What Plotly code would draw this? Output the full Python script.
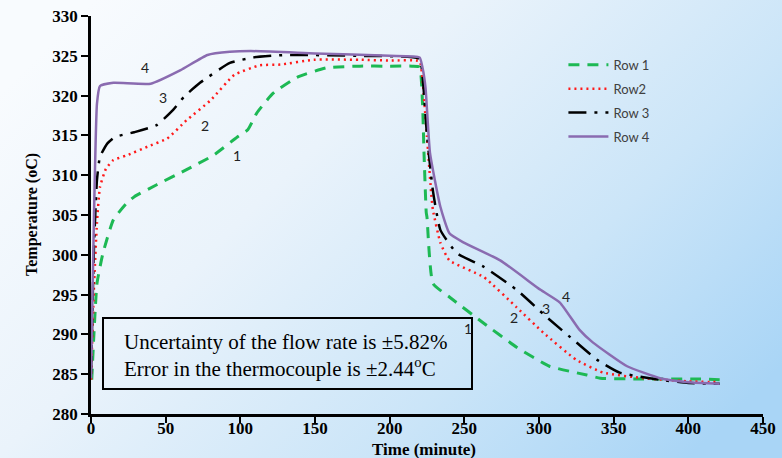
import plotly.graph_objects as go
import base64

# ---------------- data ----------------
t_row1 = [0.5, 2, 4, 8, 15, 24, 29, 44, 64, 82, 98, 105, 111, 122, 138, 158, 180, 200, 215, 220,
          222, 223, 224.5, 225, 229, 240, 263, 285, 307, 332, 341, 370, 408, 421]
T_row1 = [284.3, 290.2, 296.4, 300.2, 304.4, 306.5, 307.3, 308.8, 310.7, 312.5, 314.8, 315.7, 317.8, 320.3, 322.3, 323.5, 323.7, 323.7, 323.7, 323.6,
          319.0, 312.8, 305.3, 304.7, 296.4, 294.7, 291.4, 288.4, 286.0, 284.9, 284.5, 284.4, 284.4, 284.3]

t_row2 = [0, 2, 4, 6, 10, 15, 24, 38, 51, 64, 80, 96, 113, 127, 149, 180, 200, 220,
          222, 225, 228, 229, 234, 240, 263, 285, 303, 325, 343, 370, 400, 421]
T_row2 = [284.3, 296.0, 304.0, 308.5, 310.8, 311.9, 312.5, 313.6, 314.6, 316.9, 319.4, 322.6, 323.8, 323.9, 324.5, 324.5, 324.4, 324.3,
          322.0, 314.8, 307.3, 305.6, 301.5, 299.3, 297.2, 293.4, 290.2, 286.8, 285.2, 284.5, 284.1, 284.0]

t_row3 = [0, 2, 4, 6, 11, 16, 29, 44, 55, 62, 73, 93, 109, 130, 180, 220,
          222, 225, 229, 234, 245, 263, 285, 305, 325, 339, 354, 381, 400, 421]
T_row3 = [285.0, 301.0, 309.4, 312.3, 314.0, 314.8, 315.4, 316.3, 318.2, 319.8, 321.6, 324.1, 324.8, 325.1, 325.0, 324.6,
          322.5, 315.0, 308.0, 303.1, 300.2, 298.5, 295.6, 292.2, 289.0, 286.8, 285.2, 284.3, 283.9, 283.8]

t_row4 = [0, 2, 4, 6, 15, 40, 60, 78, 93, 107, 150, 200, 220,
          222, 224, 227, 234, 240, 249, 274, 301, 314, 327, 336, 359, 381, 400, 421]
T_row4 = [284.5, 305.0, 319.0, 321.2, 321.6, 321.5, 323.2, 325.1, 325.5, 325.6, 325.3, 325.0, 324.8,
          323.5, 321.0, 312.8, 306.0, 302.7, 301.6, 299.3, 295.6, 294.0, 290.6, 289.0, 286.0, 284.5, 284.0, 283.8]

series_names = ["Row 1", "Row2", "Row 3", "Row 4"]
x_ticks = [0, 50, 100, 150, 200, 250, 300, 350, 400, 450]
y_ticks = [280, 285, 290, 295, 300, 305, 310, 315, 320, 325, 330]

curve_labels = ["4", "3", "2", "1", "1", "2", "3", "4"]
label_t = [36.3, 48.4, 76.5, 97.9, 252.5, 283, 305, 318]
label_T = [323.5, 319.8, 316.2, 312.5, 290.8, 292.1, 293.3, 294.8]

note_lines = ["Uncertainty of the flow rate is ±5.82%", "Error in the thermocouple is ±2.44<sup>o</sup>C"]
x_title = "<b>Time (minute)</b>"
y_title = "<b>Temperature (oC)</b>"

# ---------------- geometry helpers (pixels -> paper) ----------------
W, H = 782, 458
L, R, T, B = 91, 19, 16, 44
PW, PH = W - L - R, H - T - B


def px(xp):
    return (xp - L) / PW


def py(yp):
    return 1 - (yp - T) / PH


# ---------------- background (SVG gradient) ----------------
svg = (
    '<svg xmlns="http://www.w3.org/2000/svg" width="782" height="458">'
    '<defs><linearGradient id="g" x1="0" y1="0.2" x2="1" y2="0.8">'
    '<stop offset="0" stop-color="#f8fbfe"/>'
    '<stop offset="0.35" stop-color="#eaf3fb"/>'
    '<stop offset="0.7" stop-color="#cbe5f8"/>'
    '<stop offset="1" stop-color="#a9d5f6"/>'
    '</linearGradient></defs>'
    '<rect width="782" height="458" fill="url(#g)"/></svg>'
)
bg_src = "data:image/svg+xml;base64," + base64.b64encode(svg.encode()).decode()

fig = go.Figure()

styles = [
    dict(color="#1db954", width=3, dash="11px,8px"),
    dict(color="#ff1a1a", width=2.5, dash="2px,4px"),
    dict(color="#000000", width=2.5, dash="18px,8px,3px,8px"),
    dict(color="#8a6bb0", width=2.5, dash="solid"),
]
data_t = [t_row1, t_row2, t_row3, t_row4]
data_T = [T_row1, T_row2, T_row3, T_row4]
for i in range(4):
    fig.add_trace(go.Scatter(
        x=data_t[i], y=data_T[i], mode="lines", name=series_names[i],
        line=dict(shape="spline", smoothing=0.45, **styles[i]),
        legendgroup=f"g{i}",
    ))

# curve number labels
for txt, tx, ty in zip(curve_labels, label_t, label_T):
    fig.add_annotation(x=tx, y=ty, text=txt, showarrow=False,
                       font=dict(family="Lato, Liberation Sans, sans-serif", size=14, color="#222222"))

# note box
fig.add_shape(type="rect", xref="paper", yref="paper",
              x0=px(103), x1=px(472), y0=py(389), y1=py(318),
              line=dict(color="black", width=2), fillcolor="rgba(0,0,0,0)")
serif = "Liberation Serif, Times New Roman, serif"
for k, line_txt in enumerate(note_lines):
    fig.add_annotation(xref="paper", yref="paper", x=px(122), y=py(342 + 25 * k),
                       xanchor="left", yanchor="middle", text=line_txt, showarrow=False,
                       font=dict(family=serif, size=21, color="black"))

# axis titles as annotations (exact placement)
fig.add_annotation(xref="paper", yref="paper", x=px(424), y=py(449), text=x_title,
                   showarrow=False, xanchor="center", yanchor="middle",
                   font=dict(family=serif, size=17, color="black"))
fig.add_annotation(xref="paper", yref="paper", x=px(32), y=py(215), text=y_title,
                   showarrow=False, xanchor="center", yanchor="middle", textangle=-90,
                   font=dict(family=serif, size=16, color="black"))

axis_font = dict(family=serif, size=17, color="black")

fig.update_layout(
    width=W, height=H,
    margin=dict(l=L, r=R, t=T, b=B),
    paper_bgcolor="white",
    plot_bgcolor="rgba(0,0,0,0)",
    images=[dict(source=bg_src, xref="paper", yref="paper", x=px(0), y=py(0),
                 sizex=W / PW, sizey=H / PH, xanchor="left", yanchor="top",
                 sizing="stretch", layer="below")],
    showlegend=True,
    legend=dict(x=0.703, y=0.915, xanchor="left", yanchor="top",
                bgcolor="rgba(0,0,0,0)", traceorder="grouped", tracegroupgap=4,
                itemwidth=40,
                font=dict(family="Lato, Liberation Sans, sans-serif", size=13, color="#404040")),
    xaxis=dict(range=[0, 450], tickvals=x_ticks, ticktext=[f"<b>{v}</b>" for v in x_ticks],
               showgrid=False, zeroline=False, showline=True, linecolor="black", linewidth=2.5,
               ticks="outside", ticklen=6, tickwidth=2, tickcolor="black",
               tickfont=axis_font, automargin=False, ticklabelstandoff=-9),
    yaxis=dict(range=[280, 330], tickvals=y_ticks, ticktext=[f"<b>{v}</b>" for v in y_ticks],
               showgrid=False, zeroline=False, showline=True, linecolor="black", linewidth=2.5,
               ticks="outside", ticklen=7, tickwidth=2, tickcolor="black",
               tickfont=axis_font, automargin=False),
)

fig.write_html("out.html")
